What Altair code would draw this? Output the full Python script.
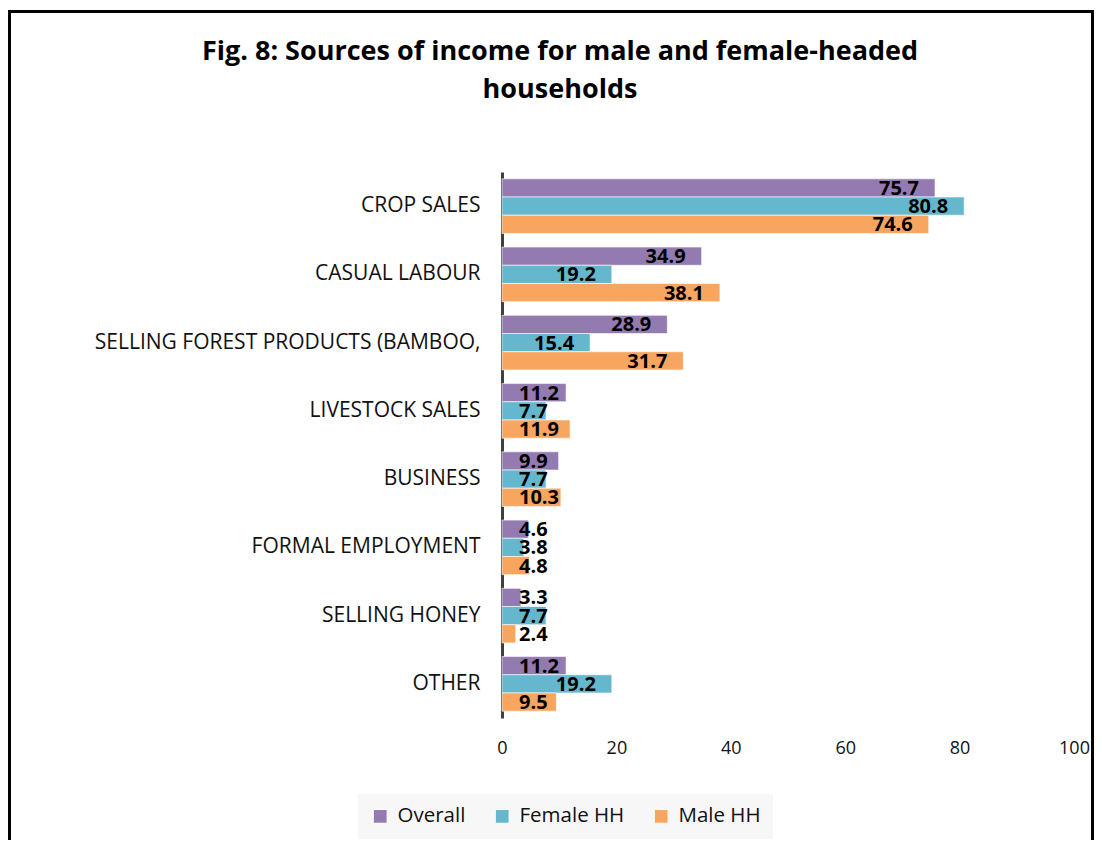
import altair as alt
import pandas as pd

categories = ["CROP SALES", "CASUAL LABOUR", "SELLING FOREST PRODUCTS (BAMBOO,",
              "LIVESTOCK SALES", "BUSINESS", "FORMAL EMPLOYMENT", "SELLING HONEY", "OTHER"]
series = ["Overall", "Female HH", "Male HH"]
overall = [75.7, 34.9, 28.9, 11.2, 9.9, 4.6, 3.3, 11.2]
female = [80.8, 19.2, 15.4, 7.7, 7.7, 3.8, 7.7, 19.2]
male = [74.6, 38.1, 31.7, 11.9, 10.3, 4.8, 2.4, 9.5]
colors = ["#937AB1", "#65B7CE", "#F8A560"]
x_ticks = [0, 20, 40, 60, 80, 100]

rows = []
for s, vals in zip(series, [overall, female, male]):
    for c, v in zip(categories, vals):
        rows.append({"category": c, "series": s, "value": v})
df = pd.DataFrame(rows)

FONT = "Open Sans"

y_enc = alt.Y("category:N", sort=categories,
              scale=alt.Scale(paddingInner=0.2, paddingOuter=0.1),
              axis=alt.Axis(title=None, labelFontSize=21, labelColor="#111111",
                            ticks=False, domainColor="#404040", domainWidth=3,
                            labelPadding=22, labelLimit=600, labelFont=FONT))
yoff = alt.YOffset("series:N", sort=series)
x_enc = alt.X("value:Q", scale=alt.Scale(domain=[0, 100], nice=False),
              axis=alt.Axis(title=None, values=x_ticks, domain=False, ticks=False,
                            grid=False, labelFontSize=18, labelColor="#111111",
                            labelPadding=21, labelFlush=False, labelFont=FONT))

base = alt.Chart(df)

bars = base.mark_bar(stroke="white", strokeWidth=1, strokeOpacity=0.6).encode(
    y=y_enc, yOffset=yoff, x=x_enc,
    color=alt.Color("series:N", sort=series,
                    scale=alt.Scale(domain=series, range=colors),
                    legend=alt.Legend(title=None, orient="none", legendX=-144, legendY=622,
                                      direction="horizontal", fillColor="#F7F7F7",
                                      padding=12, symbolType="square", symbolSize=160,
                                      symbolStrokeWidth=0, labelFontSize=20.5,
                                      labelOffset=7,
                                      labelColor="#111111", columnPadding=26,
                                      labelFont=FONT)),
)

big = base.transform_filter("datum.value >= 13").mark_text(
    align="right", baseline="middle", dx=-16, dy=1, fontSize=20,
    fontWeight="bold", color="black", font=FONT
).encode(y=alt.Y("category:N", sort=categories), yOffset=yoff, x=alt.X("value:Q"),
         text=alt.Text("value:Q", format=".1f"))

small = base.transform_filter("datum.value < 13").transform_calculate(zero="0").mark_text(
    align="left", baseline="middle", dx=17, dy=1, fontSize=20,
    fontWeight="bold", color="black", font=FONT
).encode(y=alt.Y("category:N", sort=categories), yOffset=yoff, x=alt.X("zero:Q"),
         text=alt.Text("value:Q", format=".1f"))

frame = alt.Chart(pd.DataFrame({"a": [0]})).mark_rect(
    fill="transparent", stroke="black", strokeWidth=3
).encode(x=alt.value(-492.5), x2=alt.value(590.5), y=alt.value(-160.5), y2=alt.value(720))

chart = alt.layer(bars, big, small, frame).properties(
    width=572, height=546,
    padding={"left": 494, "top": 164, "right": 20, "bottom": 122},
    autosize=alt.AutoSizeParams(type="none"),
    title=alt.TitleParams(
        text=["Fig. 8: Sources of income for male and female-headed", "households"],
        anchor="middle", dx=-228, offset=-94, fontSize=27, fontWeight="bold",
        font=FONT, color="black", lineHeight=38),
).configure(font=FONT, view=alt.ViewConfig(strokeWidth=0))

chart.save("out.html", embed_options={"renderer": "svg", "actions": False})
